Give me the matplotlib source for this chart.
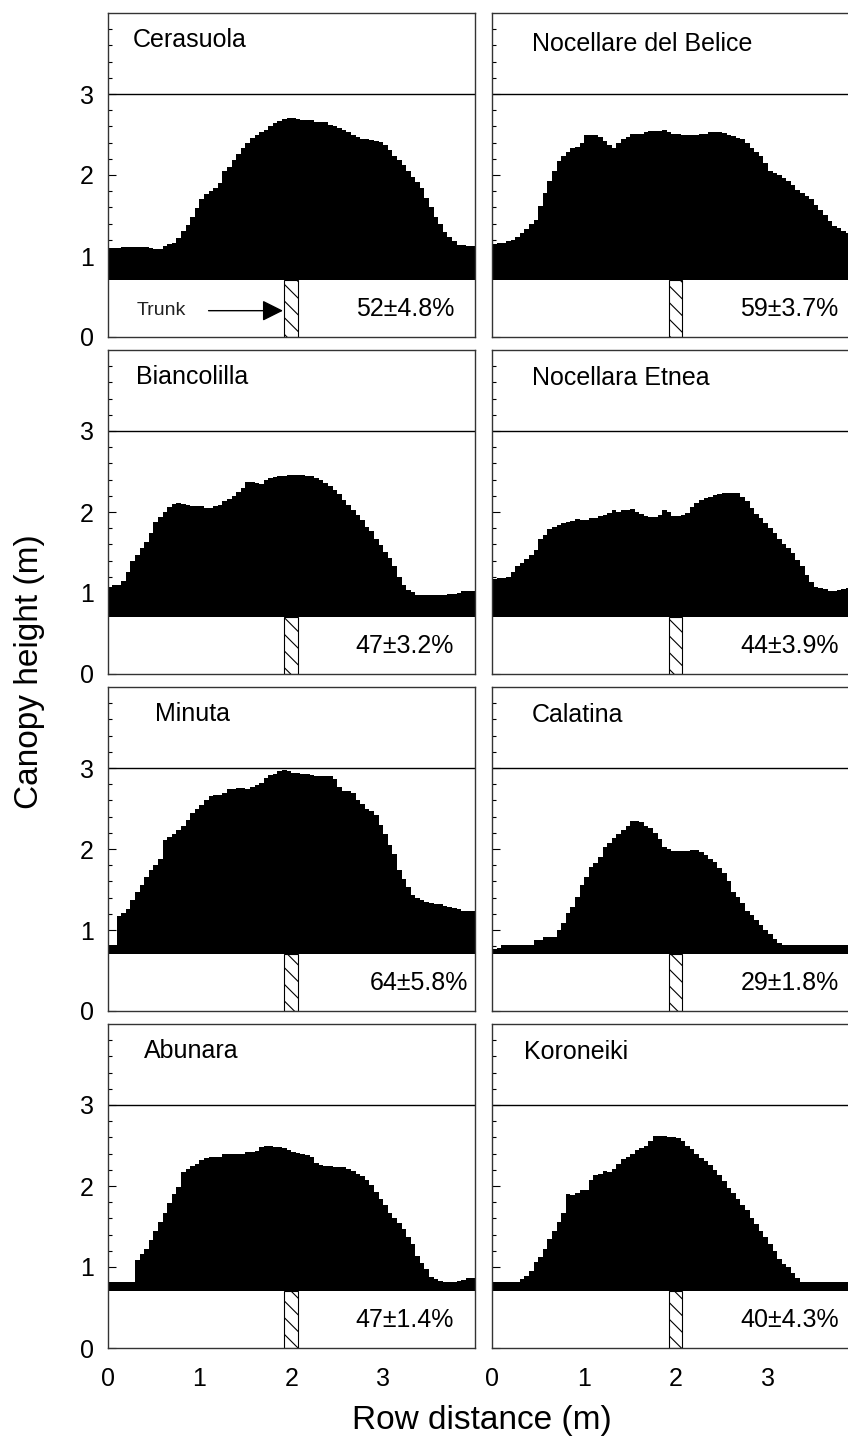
import matplotlib
matplotlib.use('Agg')
import matplotlib.pyplot as plt
import numpy as np
from matplotlib.patches import Rectangle
from matplotlib.ticker import FixedLocator

# canopy profiles, 0.05 m bins along the row (0 - 4 m)
bin_edges = np.round(np.arange(0, 4.001, 0.05), 2)

cerasuola = [1.10, 1.10, 1.10, 1.11, 1.11, 1.11, 1.11, 1.11, 1.11, 1.10,
             1.09, 1.09, 1.12, 1.15, 1.16, 1.22, 1.31, 1.38, 1.48, 1.59,
             1.70, 1.76, 1.80, 1.84, 1.90, 2.05, 2.10, 2.19, 2.26, 2.33,
             2.40, 2.46, 2.50, 2.53, 2.56, 2.61, 2.64, 2.67, 2.69, 2.70,
             2.70, 2.69, 2.68, 2.68, 2.68, 2.66, 2.65, 2.65, 2.62, 2.60,
             2.58, 2.56, 2.53, 2.50, 2.47, 2.44, 2.44, 2.43, 2.42, 2.41,
             2.37, 2.31, 2.24, 2.18, 2.12, 2.05, 1.98, 1.91, 1.84, 1.72,
             1.60, 1.48, 1.39, 1.30, 1.24, 1.18, 1.14, 1.13, 1.12, 1.12]

nocellare_belice = [1.15, 1.16, 1.16, 1.19, 1.20, 1.24, 1.28, 1.33, 1.40, 1.45,
                    1.62, 1.78, 1.92, 2.05, 2.17, 2.23, 2.29, 2.33, 2.35, 2.39,
                    2.49, 2.49, 2.49, 2.47, 2.42, 2.37, 2.33, 2.39, 2.44, 2.47,
                    2.51, 2.51, 2.51, 2.53, 2.54, 2.54, 2.54, 2.55, 2.53, 2.51,
                    2.51, 2.50, 2.50, 2.50, 2.50, 2.51, 2.51, 2.53, 2.53, 2.53,
                    2.52, 2.50, 2.48, 2.46, 2.44, 2.40, 2.33, 2.29, 2.23, 2.15,
                    2.05, 2.02, 2.00, 1.96, 1.92, 1.88, 1.82, 1.78, 1.74, 1.70,
                    1.63, 1.57, 1.51, 1.43, 1.37, 1.35, 1.31, 1.29, 1.27, 1.25]

biancolilla = [1.08, 1.10, 1.10, 1.15, 1.26, 1.39, 1.47, 1.55, 1.63, 1.74,
               1.88, 1.94, 2.00, 2.06, 2.10, 2.11, 2.10, 2.09, 2.08, 2.07,
               2.07, 2.05, 2.05, 2.07, 2.09, 2.13, 2.16, 2.20, 2.25, 2.30,
               2.37, 2.37, 2.36, 2.35, 2.39, 2.42, 2.43, 2.44, 2.45, 2.46,
               2.46, 2.46, 2.46, 2.45, 2.44, 2.42, 2.39, 2.36, 2.32, 2.27,
               2.22, 2.15, 2.09, 2.02, 1.96, 1.90, 1.82, 1.76, 1.67, 1.59,
               1.51, 1.43, 1.33, 1.20, 1.10, 1.04, 1.01, 0.98, 0.97, 0.97,
               0.97, 0.98, 0.98, 0.98, 0.99, 0.99, 1.00, 1.02, 1.02, 1.03]

nocellara_etnea = [1.17, 1.19, 1.19, 1.20, 1.26, 1.33, 1.37, 1.42, 1.47, 1.53,
                   1.67, 1.72, 1.79, 1.82, 1.84, 1.86, 1.88, 1.89, 1.91, 1.90,
                   1.90, 1.92, 1.93, 1.95, 1.96, 1.99, 2.02, 2.00, 2.02, 2.03,
                   2.04, 2.00, 1.98, 1.95, 1.94, 1.94, 1.96, 2.02, 2.00, 1.95,
                   1.95, 1.96, 1.99, 2.06, 2.11, 2.15, 2.17, 2.19, 2.21, 2.22,
                   2.23, 2.23, 2.23, 2.23, 2.19, 2.13, 2.05, 1.98, 1.92, 1.86,
                   1.80, 1.74, 1.67, 1.61, 1.55, 1.49, 1.41, 1.33, 1.22, 1.14,
                   1.08, 1.06, 1.05, 1.03, 1.03, 1.04, 1.05, 1.06, 1.07, 1.07]

minuta = [0.81, 0.81, 1.17, 1.21, 1.26, 1.37, 1.47, 1.55, 1.65, 1.74,
          1.80, 1.88, 2.11, 2.15, 2.19, 2.24, 2.29, 2.36, 2.44, 2.50,
          2.54, 2.61, 2.66, 2.67, 2.67, 2.69, 2.74, 2.74, 2.75, 2.75,
          2.74, 2.77, 2.79, 2.81, 2.88, 2.91, 2.93, 2.96, 2.97, 2.96,
          2.94, 2.94, 2.92, 2.92, 2.91, 2.90, 2.90, 2.90, 2.90, 2.87,
          2.77, 2.72, 2.72, 2.69, 2.61, 2.56, 2.50, 2.47, 2.42, 2.30,
          2.19, 2.05, 1.94, 1.74, 1.63, 1.53, 1.43, 1.39, 1.37, 1.35,
          1.33, 1.32, 1.32, 1.30, 1.29, 1.27, 1.26, 1.24, 1.23, 1.23]

calatina = [0.76, 0.78, 0.82, 0.82, 0.82, 0.82, 0.82, 0.82, 0.82, 0.88,
            0.88, 0.91, 0.91, 0.91, 1.00, 1.09, 1.21, 1.28, 1.41, 1.55,
            1.65, 1.78, 1.83, 1.90, 2.02, 2.08, 2.14, 2.19, 2.23, 2.29,
            2.34, 2.34, 2.33, 2.29, 2.26, 2.20, 2.12, 2.03, 2.00, 1.98,
            1.97, 1.97, 1.98, 1.99, 1.99, 1.96, 1.92, 1.88, 1.84, 1.76,
            1.70, 1.61, 1.47, 1.41, 1.33, 1.24, 1.18, 1.12, 1.06, 1.00,
            0.95, 0.89, 0.84, 0.82, 0.82, 0.82, 0.82, 0.82, 0.82, 0.82,
            0.82, 0.82, 0.82, 0.82, 0.82, 0.82, 0.82, 0.82, 0.82, 0.82]

abunara = [0.82, 0.82, 0.82, 0.82, 0.82, 0.82, 1.09, 1.16, 1.22, 1.33,
           1.44, 1.55, 1.67, 1.79, 1.90, 1.99, 2.17, 2.21, 2.25, 2.27,
           2.32, 2.35, 2.36, 2.36, 2.36, 2.39, 2.40, 2.40, 2.39, 2.40,
           2.42, 2.42, 2.43, 2.48, 2.50, 2.50, 2.48, 2.48, 2.47, 2.44,
           2.42, 2.41, 2.40, 2.38, 2.36, 2.29, 2.26, 2.25, 2.25, 2.24,
           2.24, 2.23, 2.21, 2.18, 2.15, 2.12, 2.07, 2.01, 1.92, 1.84,
           1.76, 1.67, 1.60, 1.54, 1.47, 1.37, 1.28, 1.14, 1.05, 0.97,
           0.88, 0.85, 0.83, 0.82, 0.82, 0.82, 0.83, 0.84, 0.86, 0.87]

koroneiki = [0.82, 0.82, 0.82, 0.82, 0.82, 0.82, 0.85, 0.89, 0.95, 1.06,
             1.12, 1.22, 1.35, 1.45, 1.55, 1.67, 1.90, 1.89, 1.91, 1.95,
             1.95, 2.07, 2.14, 2.15, 2.18, 2.17, 2.21, 2.27, 2.33, 2.36,
             2.40, 2.44, 2.47, 2.50, 2.55, 2.62, 2.62, 2.62, 2.61, 2.61,
             2.59, 2.55, 2.50, 2.46, 2.40, 2.35, 2.31, 2.26, 2.20, 2.13,
             2.06, 1.98, 1.91, 1.84, 1.76, 1.70, 1.61, 1.53, 1.45, 1.37,
             1.28, 1.20, 1.10, 1.04, 1.00, 0.93, 0.87, 0.82, 0.82, 0.82,
             0.82, 0.82, 0.82, 0.82, 0.82, 0.82, 0.82, 0.82, 0.82, 0.82]

cultivars = ['Cerasuola', 'Nocellare del Belice', 'Biancolilla', 'Nocellara Etnea',
             'Minuta', 'Calatina', 'Abunara', 'Koroneiki']
profiles = [cerasuola, nocellare_belice, biancolilla, nocellara_etnea,
            minuta, calatina, abunara, koroneiki]
porosity = ['52±4.8%', '59±3.7%', '47±3.2%', '44±3.9%',
            '64±5.8%', '29±1.8%', '47±1.4%', '40±4.3%']

# label placement (data units)
name_x = [0.28, 0.43, 0.31, 0.43, 0.52, 0.43, 0.40, 0.35]
name_y = [3.58, 3.53, 3.58, 3.57, 3.58, 3.57, 3.58, 3.57]
pct_x = [2.70, 2.70, 2.70, 2.70, 2.85, 2.70, 2.70, 2.70]

plt.rcParams['font.family'] = ['Liberation Sans', 'DejaVu Sans']
plt.rcParams['hatch.linewidth'] = 0.8

W, H = 848, 1437
fig = plt.figure(figsize=(W / 100, H / 100), dpi=100)

col_left = [107.5, 492.3]
ax_w, ax_h = 367.5, 324

for k in range(8):
    row, col = k // 2, k % 2
    top = 13 + 337 * row
    ax = fig.add_axes([col_left[col] / W, 1 - (top + ax_h) / H, ax_w / W, ax_h / H])

    ax.stairs(profiles[k], bin_edges, baseline=0.7, fill=True, color='black', lw=0)
    ax.axhline(3, color='black', lw=1)
    ax.add_patch(Rectangle((1.92, 0), 0.15, 0.7, facecolor='white',
                           edgecolor='black', hatch='\\\\', lw=0.8))

    ax.text(name_x[k], name_y[k], cultivars[k], fontsize=18, ha='left', va='baseline')
    ax.text(pct_x[k], 0.255, porosity[k], fontsize=18, ha='left', va='baseline')

    if k == 0:
        ax.annotate('', xy=(1.91, 0.325), xytext=(1.1, 0.325),
                    arrowprops=dict(arrowstyle='-|>', color='black', lw=1,
                                    mutation_scale=32, shrinkA=0, shrinkB=0))
        ax.text(0.32, 0.33, 'Trunk', fontsize=14, ha='left', va='center', color='#222222')

    ax.set_xlim(0, 4)
    ax.set_ylim(0, 4)
    ax.set_xticks([0, 1, 2, 3])
    ax.set_yticks([0, 1, 2, 3])
    ax.yaxis.set_minor_locator(FixedLocator(np.arange(0.8, 3.9, 0.2)))
    ax.tick_params(axis='y', which='major', direction='in', length=6, width=0.8,
                   labelsize=18, pad=10)
    ax.tick_params(axis='y', which='minor', direction='in', length=3, width=0.8)
    ax.tick_params(axis='x', length=0, labelsize=18, pad=14)
    if col == 1:
        ax.tick_params(axis='y', labelleft=False)
    if row < 3:
        ax.tick_params(axis='x', labelbottom=False)
    for sp in ax.spines.values():
        sp.set_color('#333333')
        sp.set_linewidth(1)

fig.text(30 / W, 1 - 672 / H, 'Canopy height (m)', rotation=90,
         ha='center', va='center', fontsize=24)
fig.text(482 / W, 1 - 1420 / H, 'Row distance (m)', ha='center', va='center', fontsize=24)

fig.savefig('out.png', dpi=100)
